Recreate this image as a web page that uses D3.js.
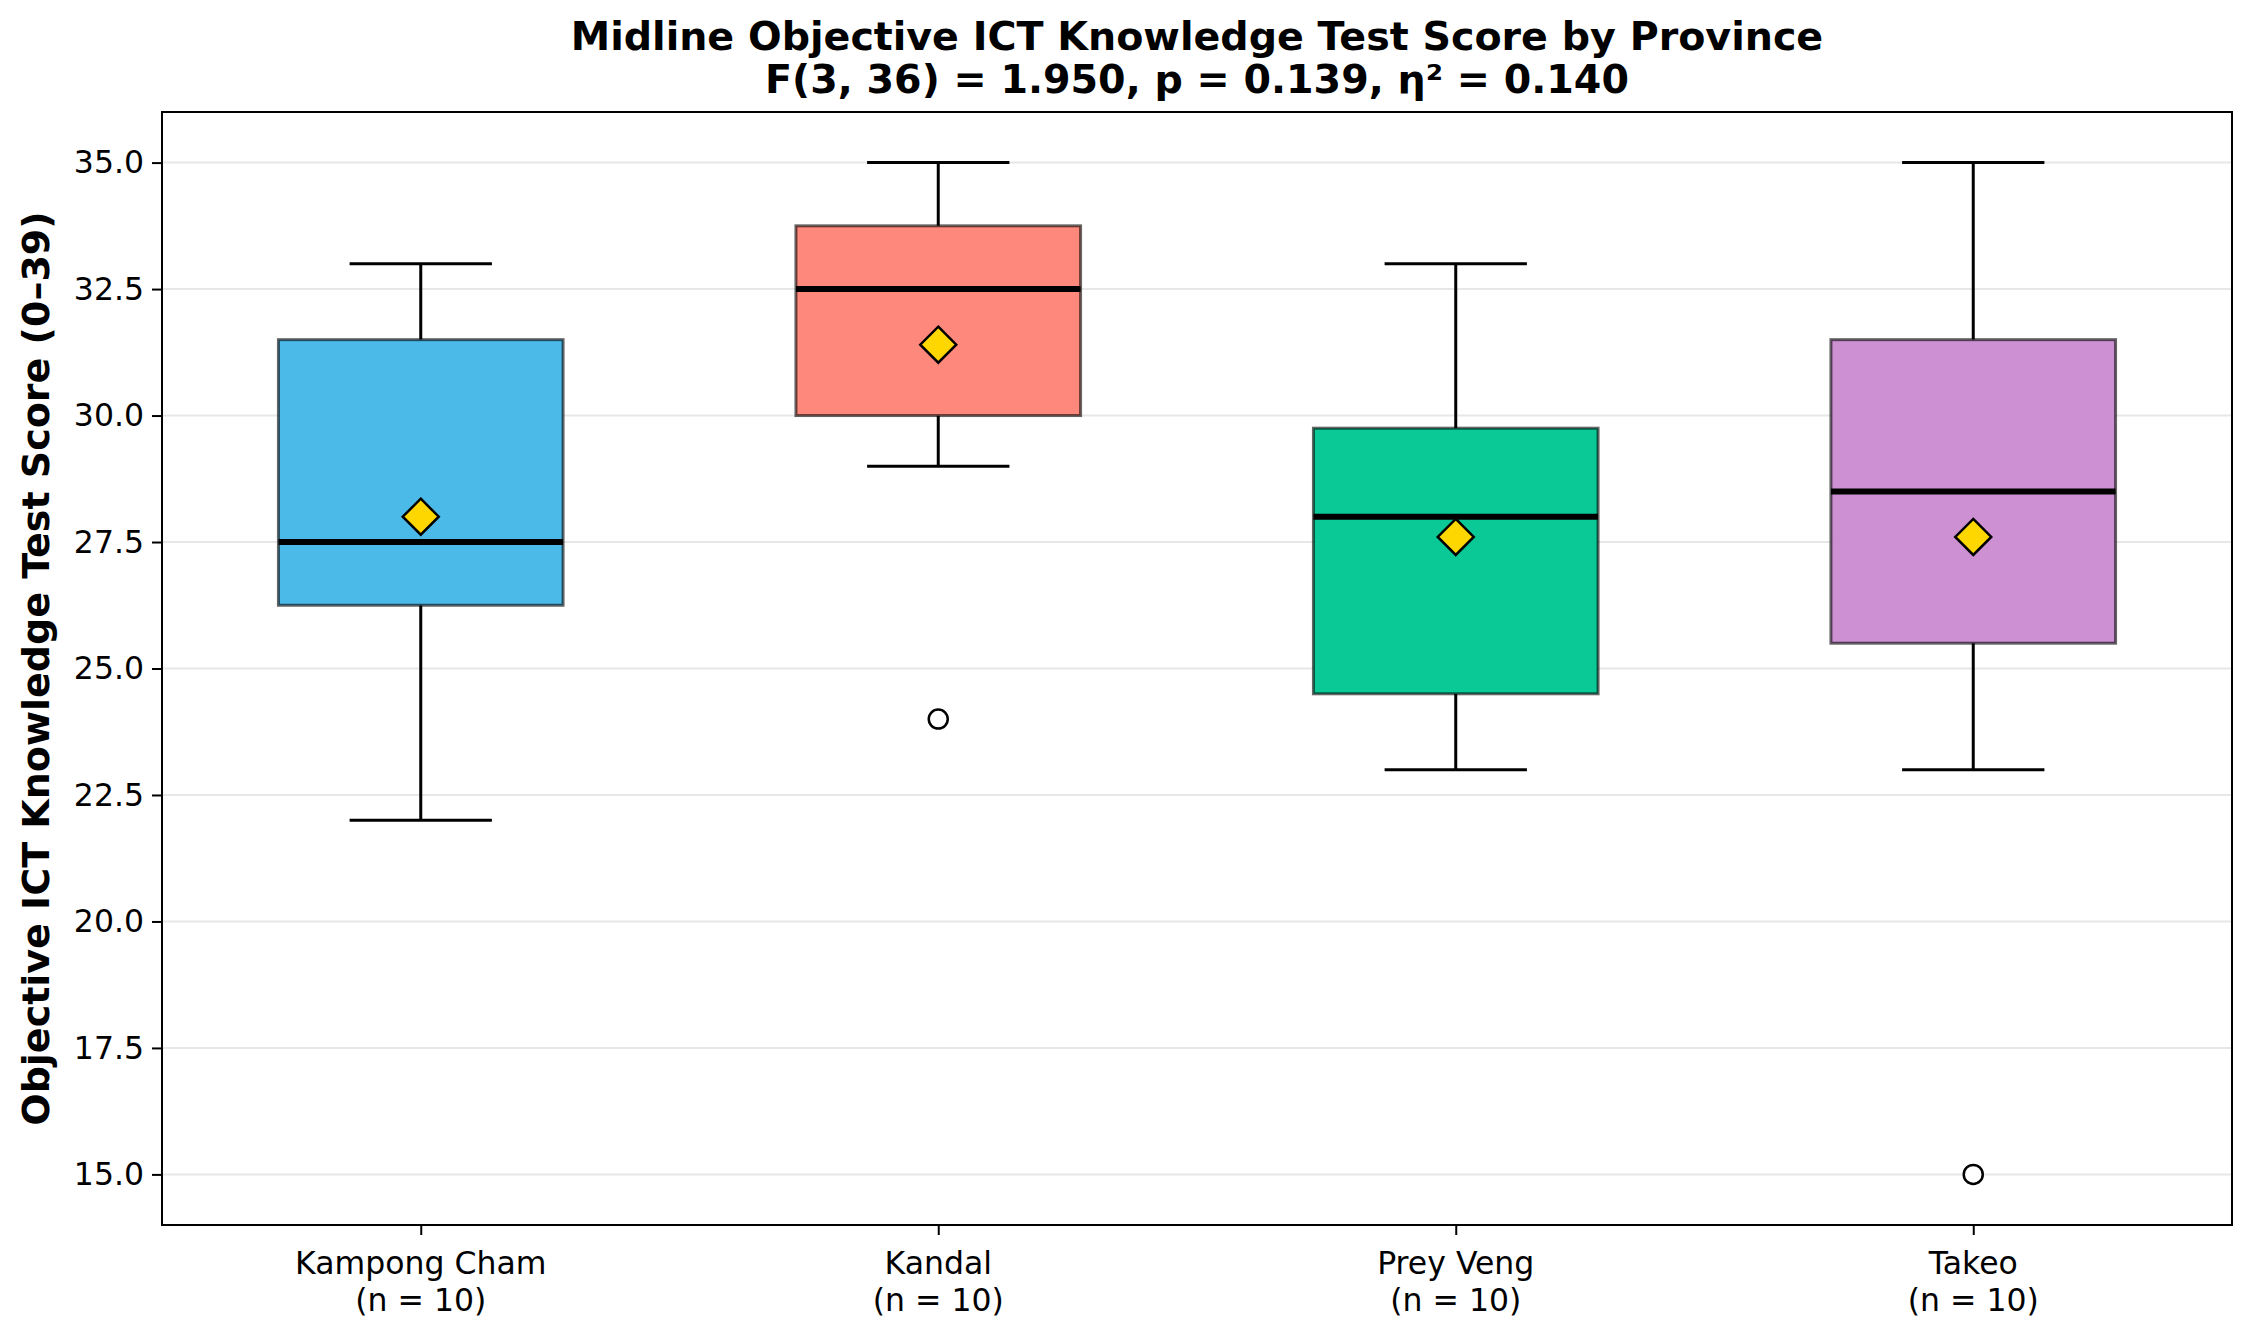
<!DOCTYPE html>
<html>
<head>
<meta charset="utf-8">
<script src="https://cdn.jsdelivr.net/npm/d3@7"></script>
<style>
  body { margin: 0; background: #fff; }
  text { font-family: "DejaVu Sans", sans-serif; fill: #000; }
</style>
</head>
<body>
<div id="chart-area"></div>
<script>
// data
var provinces = ["Kampong Cham", "Kandal", "Prey Veng", "Takeo"];
var sampleSizes = [10, 10, 10, 10];
var whiskerLow = [22, 29, 23, 23];
var q1 = [26.25, 30, 24.5, 25.5];
var medians = [27.5, 32.5, 28, 28.5];
var q3 = [31.5, 33.75, 29.75, 31.5];
var whiskerHigh = [33, 35, 33, 35];
var means = [28.0, 31.4, 27.6, 27.6];
var outliers = [[], [24], [], [15]];
var boxColors = ["#44B7E7", "#FF8377", "#00C792", "#CB8CD1"];
var yTicks = [15, 17.5, 20, 22.5, 25, 27.5, 30, 32.5, 35];

var titleLines = ["Midline Objective ICT Knowledge Test Score by Province",
    "F(3, 36) = 1.950, p = 0.139, \u03b7\u00b2 = 0.140"];
var yTitle = "Objective ICT Knowledge Test Score (0\u201339)";

var W = 2256, H = 1329;
var margin = { left: 162, right: 24, top: 112, bottom: 104 };
var width = W - margin.left - margin.right,
    height = H - margin.top - margin.bottom;

var svg = d3.select("#chart-area")
    .append("svg")
    .attr("width", W)
    .attr("height", H);

var g = svg.append("g")
    .attr("transform", "translate(" + margin.left + "," + margin.top + ")");

// Scales
var x = d3.scaleLinear()
    .domain([0.5, provinces.length + 0.5])
    .range([0, width]);
var y = d3.scaleLinear()
    .domain([14, 36])
    .range([height, 0]);

var boxW = x(1.55) - x(1);
var capW = boxW / 2;

var rows = provinces.map(function(p, i) {
    return { name: p, pos: i + 1, n: sampleSizes[i], lo: whiskerLow[i], q1: q1[i],
        med: medians[i], q3: q3[i], hi: whiskerHigh[i], mean: means[i],
        out: outliers[i], color: boxColors[i] };
});

// grid
g.append("g").selectAll("line")
    .data(yTicks)
    .enter().append("line")
    .attr("x1", 0).attr("x2", width)
    .attr("y1", function(d) { return y(d); })
    .attr("y2", function(d) { return y(d); })
    .attr("stroke", "#b0b0b0")
    .attr("stroke-opacity", 0.3)
    .attr("stroke-width", 2);

var box = g.selectAll(".box")
    .data(rows)
    .enter().append("g")
    .attr("class", "box");

// whiskers
box.append("line")
    .attr("x1", function(d) { return x(d.pos); })
    .attr("x2", function(d) { return x(d.pos); })
    .attr("y1", function(d) { return y(d.lo); })
    .attr("y2", function(d) { return y(d.q1); })
    .attr("stroke", "#000").attr("stroke-width", 3);
box.append("line")
    .attr("x1", function(d) { return x(d.pos); })
    .attr("x2", function(d) { return x(d.pos); })
    .attr("y1", function(d) { return y(d.q3); })
    .attr("y2", function(d) { return y(d.hi); })
    .attr("stroke", "#000").attr("stroke-width", 3);
// caps
["lo", "hi"].forEach(function(k) {
    box.append("line")
        .attr("x1", function(d) { return x(d.pos) - capW / 2; })
        .attr("x2", function(d) { return x(d.pos) + capW / 2; })
        .attr("y1", function(d) { return y(d[k]); })
        .attr("y2", function(d) { return y(d[k]); })
        .attr("stroke", "#000").attr("stroke-width", 3);
});

// boxes
box.append("rect")
    .attr("x", function(d) { return x(d.pos) - boxW / 2; })
    .attr("width", boxW)
    .attr("y", function(d) { return y(d.q3); })
    .attr("height", function(d) { return y(d.q1) - y(d.q3); })
    .attr("fill", function(d) { return d.color; })
    .attr("fill-opacity", 0.96)
    .attr("stroke", "#000")
    .attr("stroke-opacity", 0.6)
    .attr("stroke-width", 3);

// medians
box.append("line")
    .attr("x1", function(d) { return x(d.pos) - boxW / 2; })
    .attr("x2", function(d) { return x(d.pos) + boxW / 2; })
    .attr("y1", function(d) { return y(d.med); })
    .attr("y2", function(d) { return y(d.med); })
    .attr("stroke", "#000").attr("stroke-width", 6);

// means
var dm = 18;
box.append("path")
    .attr("d", function(d) {
        var cx = x(d.pos), cy = y(d.mean);
        return "M" + cx + "," + (cy - dm) + "L" + (cx + dm) + "," + cy +
            "L" + cx + "," + (cy + dm) + "L" + (cx - dm) + "," + cy + "Z";
    })
    .attr("fill", "#FFD700")
    .attr("stroke", "#000")
    .attr("stroke-width", 2.5);

// outliers
box.selectAll("circle")
    .data(function(d) { return d.out.map(function(v) { return { pos: d.pos, v: v }; }); })
    .enter().append("circle")
    .attr("cx", function(d) { return x(d.pos); })
    .attr("cy", function(d) { return y(d.v); })
    .attr("r", 9.5)
    .attr("fill", "#fff")
    .attr("stroke", "#000")
    .attr("stroke-width", 2.5);

// frame
g.append("rect")
    .attr("width", width).attr("height", height)
    .attr("fill", "none")
    .attr("stroke", "#000")
    .attr("stroke-width", 2);

// Y Axis
var yAxisCall = d3.axisLeft(y)
    .tickValues(yTicks)
    .tickFormat(d3.format(".1f"))
    .tickSize(10)
    .tickPadding(8);
var yAx = g.append("g").call(yAxisCall);
yAx.select(".domain").remove();
yAx.selectAll("line").attr("stroke-width", 2);
yAx.selectAll("text")
    .attr("font-size", "31.5px")
    .attr("font-family", "DejaVu Sans");

// X Axis
var xAxisCall = d3.axisBottom(x)
    .tickValues(rows.map(function(d) { return d.pos; }))
    .tickFormat("")
    .tickSize(10);
var xAx = g.append("g")
    .attr("transform", "translate(0," + height + ")")
    .call(xAxisCall);
xAx.select(".domain").remove();
xAx.selectAll("line").attr("stroke-width", 2);

var xl = g.append("g").selectAll("text")
    .data(rows)
    .enter().append("text")
    .attr("text-anchor", "middle")
    .attr("font-size", "31.5px");
xl.append("tspan")
    .attr("x", function(d) { return x(d.pos); })
    .attr("y", height + 49)
    .text(function(d) { return d.name; });
xl.append("tspan")
    .attr("x", function(d) { return x(d.pos); })
    .attr("y", height + 86)
    .text(function(d) { return "(n = " + d.n + ")"; });

// Labels
svg.append("text")
    .attr("transform", "translate(49," + (margin.top + height / 2) + ") rotate(-90)")
    .attr("text-anchor", "middle")
    .attr("font-size", "38px")
    .attr("font-weight", "bold")
    .text(yTitle);

svg.selectAll(".title")
    .data(titleLines)
    .enter().append("text")
    .attr("class", "title")
    .attr("x", margin.left + width / 2)
    .attr("y", function(d, i) { return 50 + i * 43; })
    .attr("text-anchor", "middle")
    .attr("font-size", "39.6px")
    .attr("font-weight", "bold")
    .text(function(d) { return d; });
</script>
</body>
</html>
